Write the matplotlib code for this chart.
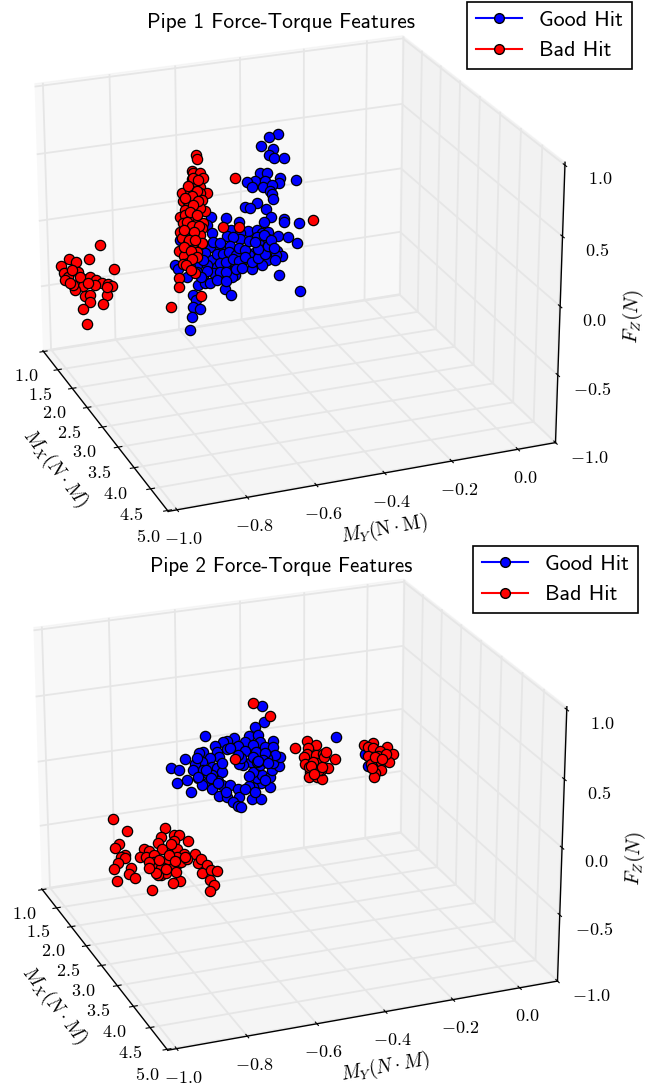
import numpy as np
import matplotlib
matplotlib.use('Agg')
import matplotlib.pyplot as plt
from matplotlib.lines import Line2D

plt.rcParams['mathtext.fontset'] = 'cm'
W, H = 654, 1084

x_ticks = [1.0, 1.5, 2.0, 2.5, 3.0, 3.5, 4.0, 4.5, 5.0]
y_ticks = [-1.0, -0.8, -0.6, -0.4, -0.2, 0.0]
z_ticks = [-1.0, -0.5, 0.0, 0.5, 1.0]

# Depth along Mx cannot be read from a single view, one estimate per pipe
mx_estimate = 1.5

p1_good_my = [-.336, -.366, -.391, -.351, -.366, -.349, -.317, -.393, -.370, -.280, -.331, -.409, -.433, -.377,
              -.419, -.383, -.333, -.357, -.362, -.355, -.354, -.403, -.440, -.425, -.375, -.360, -.381, -.318,
              -.318, -.271, -.501, -.458, -.545, -.560, -.544, -.483, -.498, -.430, -.458, -.457, -.477, -.404,
              -.389, -.368, -.338, -.305, -.278, -.404, -.394, -.368, -.371, -.342, -.326, -.344, -.373, -.413,
              -.449, -.428, -.389, -.347, -.454, -.419, -.336, -.268, -.506, -.486, -.472, -.483, -.506, -.529,
              -.488, -.550, -.566, -.545, -.509, -.483, -.530, -.488, -.497, -.525, -.572, -.592, -.561, -.588,
              -.567, -.624, -.659, -.649, -.604, -.596, -.606, -.583, -.610, -.614, -.576, -.542, -.519, -.592,
              -.504, -.571, -.613, -.643,
              -.530, -.510, -.490, -.470, -.460, -.440, -.520, -.500, -.480, -.460, -.440, -.540, -.520, -.500,
              -.470, -.450, -.420, -.400, -.380, -.400, -.370, -.430, -.410, -.380, -.360, -.350, -.560, -.580,
              -.550, -.530, -.500]
p1_good_fz = [.544, .526, .472, .436, .396, .368, .352, .267, .259, .175, .205, .212, .215, .203,
              .173, .160, .168, .163, .122, .094, .058, .045, .023, .015, -.016, -.082, -.110, -.107,
              -.133, -.155, -.036, -.082, -.010, -.068, -.138, -.134, -.172, -.159, -.164, -.216, -.187, -.163,
              -.194, -.189, -.231, -.251, -.312, -.219, -.282, -.248, -.304, -.345, -.390, -.378, -.406, -.339,
              -.339, -.347, -.438, -.416, -.411, -.461, -.538, -.684, -.583, -.632, -.485, -.498, -.279, -.258,
              -.255, -.237, -.282, -.341, -.342, -.326, -.398, -.401, -.429, -.464, -.454, -.362, -.374, -.518,
              -.513, -.440, -.337, -.374, -.589, -.631, -.678, -.708, -.760, -.856, -.202, -.202, -.223, -.413,
              -.408, -.332, -.367, -.152,
              -.300, -.310, -.300, -.330, -.280, -.300, -.370, -.370, -.360, -.380, -.360, -.440, -.440, -.450,
              -.440, -.440, -.400, -.380, -.360, -.310, -.300, -.240, -.250, -.210, -.260, -.320, -.420, -.460,
              -.520, -.500, -.520]

p1_bad_my = [-.886, -.922, -.980, -.960, -1.007, -.845, -.954, -.999, -.985, -.995, -.974, -.940, -.919, -.902,
             -.885, -.864, -.854, -.905, -.940, -.966, -.970, -.936, -.921, -.870, -.868, -.921, -.881, -.942,
             -.933, -.950, -.980, -.925, -.590, -.586, -.604, -.599, -.579, -.602, -.571, -.579, -.599, -.635,
             -.559, -.610, -.579, -.574, -.595, -.631, -.620, -.564, -.616, -.626, -.600, -.580, -.642, -.626,
             -.611, -.591, -.570, -.632, -.642, -.606, -.575, -.622, -.614, -.599, -.581, -.576, -.637, -.602,
             -.617, -.646, -.628, -.602, -.631, -.592, -.618, -.635, -.598, -.647, -.648, -.580, -.674, -.510,
             -.458, -.472, -.226,
             -.600, -.585, -.615, -.590, -.605, -.625, -.585, -.600, -.610, -.590, -.620, -.605, -.585, -.630,
             -.600, -.615, -.595, -.630, -.610, -.590, -.605, -.625, -.610]
p1_bad_fz = [-.100, -.195, -.168, -.199, -.211, -.295, -.277, -.272, -.308, -.324, -.256, -.340, -.328, -.359,
             -.386, -.404, -.421, -.397, -.388, -.411, -.372, -.469, -.467, -.489, -.424, -.523, -.548, -.563,
             -.684, -.316, -.355, -.376, .468, .437, .358, .336, .334, .297, .291, .229, .236, .199,
             .176, .215, .179, .127, .146, .139, .143, .042, .086, .069, .048, .065, .020, .032,
             -.012, -.044, -.052, -.030, -.089, -.082, -.088, -.134, -.142, -.130, -.137, -.202, -.141, -.193,
             -.187, -.232, -.221, -.282, -.279, -.260, -.340, -.338, -.424, -.439, -.513, -.606, -.654, -.099,
             -.123, .257, -.151,
             .300, .280, .250, .200, .170, .160, .120, .100, .050, .020, -.020, -.060, -.070, -.080,
             -.110, -.160, -.170, -.210, -.250, -.300, -.310, -.350, -.390]

p2_good_my = [-.387, -.381, -.409, -.562, -.427, -.401, -.157, -.473, -.497, -.507, -.532, -.440, -.461, -.354,
              -.394, -.415, -.440, -.407, -.378, -.355, -.497, -.571, -.583, -.528, -.520, -.626, -.549, -.574,
              -.595, -.600, -.668, -.644, -.621, -.652, -.609, -.585, -.560, -.575, -.544, -.529, -.513, -.560,
              -.539, -.524, -.545, -.514, -.488, -.462, -.522, -.496, -.459, -.480, -.465, -.455, -.420, -.391,
              -.363, -.392, -.415, -.428, -.405, -.388, -.363, -.415, -.394, -.358, -.335, -.353, -.332, -.347,
              -.373, -.422, -.446, -.458, -.454, -.461, -.415, -.378, -.590, -.570, -.544, -.513, -.063, -.054,
              -.384, -.405, -.487,
              -.585, -.560, -.545, -.525, -.500, -.430, -.440, -.410, -.380, -.370, -.400]
p2_good_fz = [.333, .207, .179, .162, .113, .111, .007, .112, .102, .098, .074, .074, .048, .050,
              .057, .038, .003, -.021, .012, -.002, .035, .044, .041, .028, -.014, .005, -.016, -.038,
              -.043, -.087, -.047, -.071, -.160, -.171, -.253, -.158, -.201, -.214, -.082, -.101, -.133, -.128,
              -.188, -.199, -.259, -.237, -.247, -.291, -.317, -.335, -.349, -.381, -.418, -.435, -.380, -.391,
              -.312, -.270, -.287, -.277, -.226, -.209, -.234, -.170, -.125, -.178, -.153, -.128, -.083, -.065,
              -.081, -.094, -.106, -.096, -.051, -.022, -.053, -.040, -.001, -.099, -.147, -.068, -.162, -.260,
              -.090, -.095, .039,
              -.150, -.100, -.170, -.220, -.300, -.200, -.300, -.330, -.250, -.120, -.090]

p2_bad_my = [-.416, -.363, -.471, -.284, -.247, -.219, -.245, -.248, -.255, -.219, -.198, -.252, -.214, -.193,
             -.160, -.180, -.238, -.239, -.214, -.198, -.203, -.229, -.188, -.209, -.240, -.066, -.039, -.053,
             -.037, .007, -.014, .026, -.037, -.013, .014, -.040, -.010, -.031, -.033, -.052, -.021, -.042,
             .005, -.849, -.807, -.830, -.843, -.815, -.825, -.813, -.835, -.848, -.796, -.803, -.839, -.785,
             -.690, -.703, -.713, -.662, -.646, -.662, -.621, -.700, -.754, -.739, -.767, -.751, -.724, -.669,
             -.655, -.634, -.654, -.599, -.591, -.705, -.688, -.655, -.724, -.729, -.716, -.704, -.673, -.642,
             -.622, -.581, -.562, -.579, -.550, -.532, -.553, -.539, -.553, -.645, -.667, -.734, -.704, -.689,
             -.658, -.742, -.714, -.672, -.683,
             -.680, -.710, -.660, -.690, -.720, -.740, -.630, -.235, -.225, -.200, -.030, -.010, -.040]
p2_bad_fz = [.364, .244, -.051, -.030, .012, -.037, -.045, -.096, -.114, -.115, -.110, -.172, -.176, -.138,
             -.169, -.226, -.237, -.276, -.291, -.307, -.238, -.163, -.101, -.236, -.197, -.088, -.085, -.114,
             -.120, -.129, -.154, -.191, -.198, -.241, -.251, -.270, -.312, -.325, -.356, -.179, -.191, -.248,
             -.188, -.372, -.487, -.576, -.602, -.670, -.679, -.697, -.727, -.763, -.776, -.825, -.863, -.864,
             -.505, -.573, -.613, -.576, -.577, -.623, -.639, -.670, -.648, -.670, -.702, -.709, -.707, -.690,
             -.683, -.736, -.748, -.750, -.826, -.767, -.787, -.808, -.759, -.809, -.801, -.819, -.806, -.792,
             -.775, -.791, -.851, -.910, -.898, -.908, -.973, -1.018, -1.065, -.943, -.947, -.977, -.872, -.865,
             -.870, -.752, -.867, -.637, -.750,
             -.720, -.750, -.780, -.830, -.850, -.800, -.760, -.190, -.260, -.210, -.200, -.220, -.280]

fig = plt.figure(figsize=(W / 100, H / 100), dpi=100)


def panel(rect, lz, title, title_size, title_xy, legend_xy, ylabel, good, bad):
    ax = fig.add_axes(rect, projection='3d', computed_zorder=False)
    ax.patch.set_visible(False)
    ax.set_proj_type('persp', focal_length=1.15)
    ax.view_init(elev=23, azim=-21.4)
    ax.set_box_aspect((3.92, 4.04, lz), zoom=1.143)

    # Good hits first, bad hits sit on top
    for (my, fz), col in ((good, 'b'), (bad, 'r')):
        ax.plot(np.full(len(my), mx_estimate), my, fz, 'o', color=col, mec='k', ms=7.4, mew=0.9)

    ax.set_xlim(0.98, 5.02)
    ax.set_ylim(-1.025, 0.115)
    ax.set_zlim(-1.0, 1.02)
    ax.set_xticks(x_ticks)
    ax.set_yticks(y_ticks)
    ax.set_zticks(z_ticks)
    ax.set_xticklabels(['$%.1f$' % v for v in x_ticks], fontsize=13)
    ax.set_yticklabels(['$%.1f$' % v for v in y_ticks], fontsize=13)
    ax.set_zticklabels(['$%.1f$' % v for v in z_ticks], fontsize=13)
    ax.tick_params(axis='x', pad=2)
    ax.tick_params(axis='y', pad=1)
    ax.tick_params(axis='z', pad=4.5)
    ax.set_xlabel(r'$M_X(N\cdot M)$', fontsize=14, labelpad=4)
    ax.set_ylabel(ylabel, fontsize=14, labelpad=3)
    ax.set_zlabel(r'$F_Z(N)$', fontsize=14, labelpad=5.5)
    for axis in (ax.xaxis, ax.yaxis, ax.zaxis):
        axis._axinfo['grid']['color'] = (0.9, 0.9, 0.9, 1)
        axis._axinfo['grid']['linewidth'] = 1.3
        axis._axinfo['tick']['inward_factor'] = 0.12
        axis._axinfo['tick']['outward_factor'] = 0.12
        axis.pane.set_edgecolor((0.94, 0.94, 0.94, 1))
        axis.line.set_linewidth(1.0)

    fig.text(title_xy[0] / W, 1 - title_xy[1] / H, title, family='cmss10', fontsize=title_size, ha='center', va='center')
    handles = [Line2D([], [], color='b', marker='o', mfc='b', mec='k', ms=7),
               Line2D([], [], color='r', marker='o', mfc='r', mec='k', ms=7)]
    leg = fig.legend(handles, ['Good Hit', 'Bad Hit'], loc='upper left',
                     bbox_to_anchor=(legend_xy[0] / W, 1 - legend_xy[1] / H),
                     borderaxespad=0, fancybox=False, edgecolor='k', framealpha=1, labelspacing=0.5, handlelength=2.1,
                     prop={'family': 'cmss10', 'size': 15.8})
    leg.get_frame().set_linewidth(1.2)
    return ax


panel([-42.6 / W, 544.7 / H, 1.0, 0.5], 2.96, 'Pipe 1 Force-Torque Features', 15.4, (281, 22), (467, 2),
      r'$M_Y(\mathrm{N\cdot M})$', (p1_good_my, p1_good_fz), (p1_bad_my, p1_bad_fz))
panel([-42.3 / W, 3.6 / H, 1.0, 0.5], 2.88, 'Pipe 2 Force-Torque Features', 15.1, (281, 567), (473, 546),
      r'$M_Y(N\cdot M)$', (p2_good_my, p2_good_fz), (p2_bad_my, p2_bad_fz))

fig.savefig('out.png', dpi=100)
